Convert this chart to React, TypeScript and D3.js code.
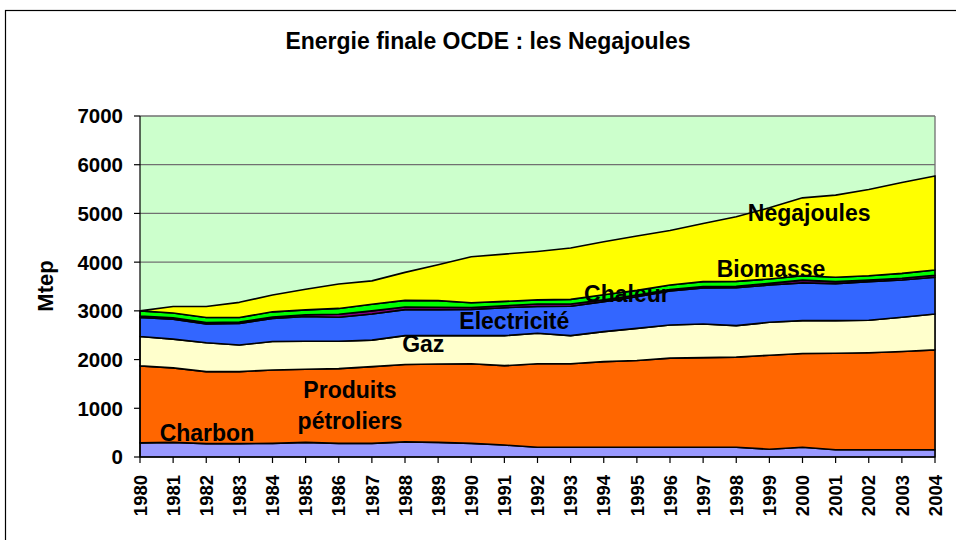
import React from "react";
import * as d3 from "d3";

const years = [1980, 1981, 1982, 1983, 1984, 1985, 1986, 1987, 1988, 1989, 1990, 1991, 1992, 1993, 1994, 1995, 1996, 1997, 1998, 1999, 2000, 2001, 2002, 2003, 2004];
const charbon = [290, 300, 275, 275, 280, 300, 280, 280, 310, 300, 280, 245, 200, 200, 200, 200, 200, 200, 200, 160, 200, 150, 150, 150, 150];
const petrole = [1580, 1530, 1477, 1477, 1506, 1500, 1534, 1575, 1590, 1610, 1635, 1630, 1715, 1715, 1757, 1780, 1830, 1840, 1850, 1930, 1925, 1980, 1990, 2015, 2050];
const gaz = [605, 590, 593, 548, 584, 575, 561, 545, 591, 581, 576, 616, 624, 576, 616, 661, 680, 691, 646, 675, 674, 670, 666, 703, 736];
const electricite = [390, 410, 385, 440, 475, 510, 495, 535, 534, 534, 539, 574, 551, 604, 617, 649, 700, 739, 779, 765, 776, 760, 794, 767, 754];
const chaleur = [30, 30, 30, 30, 30, 35, 60, 65, 55, 50, 40, 40, 50, 45, 35, 35, 30, 30, 30, 35, 55, 40, 35, 35, 40];
const biomasse = [105, 95, 105, 95, 105, 100, 120, 135, 135, 135, 95, 90, 85, 95, 105, 95, 90, 100, 100, 90, 90, 90, 85, 100, 110];
const negajoules = [0, 135, 225, 310, 345, 425, 500, 480, 575, 735, 945, 970, 995, 1055, 1090, 1115, 1120, 1195, 1325, 1460, 1600, 1685, 1770, 1865, 1930];
const yTicks = [0, 1000, 2000, 3000, 4000, 5000, 6000, 7000];

const seriesKeys = ["Charbon", "Produits pétroliers", "Gaz", "Electricité", "Chaleur", "Biomasse", "Negajoules"];
const seriesValues = [charbon, petrole, gaz, electricite, chaleur, biomasse, negajoules];
const colors = ["#9999FF", "#FF6600", "#FFFFCC", "#3366FF", "#800080", "#00FF00", "#FFFF00"];

const title = "Energie finale OCDE : les Negajoules";
const yTitle = "Mtep";

// in-chart labels: [text, year position, value position]
const labels: [string, number, number][] = [
  ["Charbon", 1982.02, 330],
  ["Produits", 1986.34, 1210],
  ["pétroliers", 1986.34, 575],
  ["Gaz", 1988.55, 2160],
  ["Electricité", 1991.3, 2630],
  ["Chaleur", 1994.7, 3180],
  ["Biomasse", 1999.05, 3700],
  ["Negajoules", 2000.2, 4840],
];

export default function App() {
  const W = 956, H = 540;
  const L = 140, R = 935, T = 116, B = 457;
  const x = d3.scaleLinear().domain([1980, 2004]).range([L, R]);
  const y = d3.scaleLinear().domain([0, 7000]).range([B, T]);

  const table = years.map((yr, i) => {
    const row: any = { year: yr };
    seriesKeys.forEach((k, j) => (row[k] = seriesValues[j][i]));
    return row;
  });
  const stack = d3.stack<any>().keys(seriesKeys)(table);
  const area = d3
    .area<any>()
    .x((d) => x(d.data.year))
    .y0((d) => y(d[0]))
    .y1((d) => y(d[1]));

  const font = "Arial, 'Liberation Sans', sans-serif";

  return (
    <svg width={W} height={H} style={{ position: "absolute", left: 0, top: 0, background: "#fff" }} fontFamily={font}>
      <rect x={5.5} y={10.5} width={1100} height={700} fill="#fff" stroke="#000" strokeWidth={1.2} />
      <text x={488} y={49} textAnchor="middle" fontWeight="bold" fontSize={23}>
        {title}
      </text>
      <rect x={L} y={T} width={R - L} height={B - T} fill="#CCFFCC" />
      {yTicks.slice(1).map((t) => (
        <line key={t} x1={L} x2={R} y1={y(t)} y2={y(t)} stroke="#707070" strokeWidth={1.3} />
      ))}
      <line x1={R} x2={R} y1={T} y2={B} stroke="#707070" strokeWidth={1.3} />
      {stack.map((s, i) => (
        <path key={s.key} d={area(s) || ""} fill={colors[i]} stroke="#000" strokeWidth={1.6} strokeLinejoin="round" />
      ))}
      {/* y axis */}
      <line x1={L} x2={L} y1={T} y2={B} stroke="#000" strokeWidth={1.2} />
      {yTicks.map((t) => (
        <g key={t}>
          <line x1={L - 6} x2={L} y1={y(t)} y2={y(t)} stroke="#000" strokeWidth={1.2} />
          <text x={123} y={y(t)} dy="0.36em" textAnchor="end" fontWeight="bold" fontSize={20.5}>
            {t}
          </text>
        </g>
      ))}
      <text transform={`translate(53,286) rotate(-90)`} textAnchor="middle" fontWeight="bold" fontSize={22}>
        {yTitle}
      </text>
      {/* x axis */}
      <line x1={L} x2={R} y1={B} y2={B} stroke="#000" strokeWidth={1.2} />
      {years.map((yr) => (
        <g key={yr}>
          <line x1={x(yr)} x2={x(yr)} y1={B} y2={B + 6} stroke="#000" strokeWidth={1.2} />
          <text
            transform={`translate(${x(yr)},475) rotate(-90)`}
            dy="0.36em"
            textAnchor="end"
            fontWeight="bold"
            fontSize={18.5}
          >
            {yr}
          </text>
        </g>
      ))}
      {labels.map(([t, yr, v]) => (
        <text key={t} x={x(yr)} y={y(v)} textAnchor="middle" fontWeight="bold" fontSize={23}>
          {t}
        </text>
      ))}
    </svg>
  );
}
